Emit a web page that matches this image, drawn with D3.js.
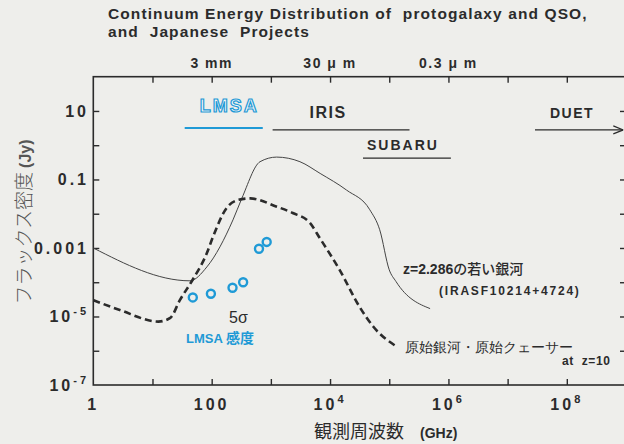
<!DOCTYPE html>
<html>
<head>
<meta charset="utf-8">
<script src="https://cdn.jsdelivr.net/npm/d3@7"></script>
<style>
  body { margin: 0; background: #eeeeeb; }
  text { font-family: 'Liberation Sans', Arial, sans-serif; }
</style>
</head>
<body>
<svg width="624" height="444"></svg>
<script>
// axis labels
const freqTicks = [1, 100, 1e4, 1e6, 1e8]
const freqTickLabels = ['1', '100', '10^4', '10^6', '10^8']
const fluxTicks = [10, 0.1, 0.001, 1e-5, 1e-7]
const fluxTickLabels = ['10', '0.1', '0.001', '10^-5', '10^-7']
const waveTicks = [100, 1e4, 1e6]
const waveTickLabels = ['3 mm', '30 μ m', '0.3 μ m']

// z=2.286 young galaxy (IRASF10214+4724), GHz / Jy
const youngFreq = [1, 43, 83, 229, 323, 656, 1250, 3100, 6800, 1.9e4, 4.7e4, 6.9e4, 1e5, 1.3e5, 4.9e5]
const youngFlux = [1e-3, 1.1e-4, 2.8e-4, 6.6e-3, 0.028, 0.33, 0.45, 0.33, 0.15, 0.049, 0.013, 3.4e-3, 2.3e-4, 1.05e-4, 1.7e-5]

// protogalaxy / proto-QSO at z=10
const protoFreq = [1, 2.8, 12.6, 20, 29, 48, 83, 105, 178, 275, 447, 1260, 2340, 4570, 6760, 1.45e4, 3.16e4, 5.4e4, 1.35e5]
const protoFlux = [3e-5, 1.55e-5, 7.1e-6, 9.1e-6, 3e-5, 1.2e-4, 7.1e-4, 2.1e-3, 0.0145, 0.025, 0.028, 0.016, 0.0105, 5.4e-3, 1.9e-3, 2.3e-4, 1.9e-5, 5e-6, 1.3e-6]

// LMSA 5 sigma sensitivity
const sensFreq = [48, 97, 225, 340, 630, 850]
const sensFlux = [3.6e-5, 4.6e-5, 6.9e-5, 1.0e-4, 9.5e-4, 1.5e-3]

// project coverage
const projNames = ['LMSA', 'IRIS', 'SUBARU', 'DUET']
const projStart = [35, 1070, 3.6e4, 2.9e7]
const projEnd = [730, 2.2e5, 1.1e6, 9e8]
const projLevel = [3.2, 2.8, 0.42, 2.8]

const svg = d3.select('svg')
const ink = '#2b2b2b'
const blue = '#1f9ad6'

const x = d3.scaleLog().domain([1, 1e9]).range([93.3, 626])
const y = d3.scaleLog().domain([1e-7, 1e2]).range([385, 76.7])

const decadesX = d3.range(1, 10).map(k => 10 ** k)
const decadesY = d3.range(-6, 2).map(k => 10 ** k)

// frame
svg.append('rect')
  .attr('x', x(1)).attr('y', y(1e2))
  .attr('width', x(1e9) - x(1)).attr('height', y(1e-7) - y(1e2))
  .attr('fill', 'none').attr('stroke', ink).attr('stroke-width', 1.6)

const axes = [
  [d3.axisBottom(x).tickValues(decadesX.slice(0, 8)), `translate(0,${y(1e-7)})`],
  [d3.axisTop(x).tickValues(decadesX.slice(0, 8)), `translate(0,${y(1e2)})`],
  [d3.axisLeft(y).tickValues(decadesY), `translate(${x(1)},0)`],
  [d3.axisRight(y).tickValues(decadesY), `translate(${x(1e9)},0)`]
]
axes.forEach(([ax, tr]) => {
  const g = svg.append('g').attr('transform', tr)
    .call(ax.tickSizeInner(-6).tickSizeOuter(0).tickFormat(''))
  g.select('.domain').remove()
  g.selectAll('line').attr('stroke', ink).attr('stroke-width', 1.4)
})

function sup(sel, str) {
  const [b, e] = str.split('^')
  sel.append('tspan').text(b)
  if (e) sel.append('tspan').attr('dy', -7).attr('font-size', 11).text(e)
}

svg.append('g').selectAll('text').data(freqTicks).join('text')
  .attr('x', d => x(d)).attr('y', 410)
  .attr('text-anchor', 'middle').attr('font-size', 16).attr('font-weight', 'bold')
  .attr('letter-spacing', 3).attr('fill', ink)
  .each(function (d, i) { sup(d3.select(this), freqTickLabels[i]) })

svg.append('g').selectAll('text').data(fluxTicks).join('text')
  .attr('x', 89).attr('y', d => y(d) + 6)
  .attr('text-anchor', 'end').attr('font-size', 16).attr('font-weight', 'bold')
  .attr('letter-spacing', 3).attr('fill', ink)
  .each(function (d, i) { sup(d3.select(this), fluxTickLabels[i]) })

svg.append('g').selectAll('text').data(waveTicks).join('text')
  .attr('x', d => x(d)).attr('y', 68)
  .attr('text-anchor', 'middle').attr('font-size', 14).attr('font-weight', 'bold')
  .attr('letter-spacing', 1.5).attr('fill', ink)
  .text((d, i) => waveTickLabels[i])

// title
const title = svg.append('text').attr('x', 108).attr('y', 19)
  .attr('font-size', 15.5).attr('font-weight', 'bold').attr('fill', ink).attr('letter-spacing', 1.1)
title.append('tspan').text('Continuum Energy Distribution of\u00a0 protogalaxy and QSO,')
title.append('tspan').attr('x', 108).attr('dy', 18).text('and\u00a0 Japanese\u00a0 Projects')

// axis titles
const yt = svg.append('text')
  .attr('transform', 'translate(31,222) rotate(-90)')
  .attr('text-anchor', 'middle').attr('font-size', 19).attr('fill', '#555')
yt.append('tspan').attr('font-family', 'Noto Sans CJK JP').attr('font-weight', 300).text('フラックス密度 ')
yt.append('tspan').attr('font-weight', 'bold').attr('font-size', 16).text('(Jy)')

const xt = svg.append('text').attr('x', 314).attr('y', 438).attr('fill', ink)
xt.append('tspan').attr('font-family', 'Noto Sans CJK JP').attr('font-size', 18).text('観測周波数')
xt.append('tspan').attr('dx', 16).attr('font-weight', 'bold').attr('font-size', 14).text('(GHz)')

// curves
const line = d3.line()
  .x(d => x(d[0])).y(d => y(d[1]))
  .curve(d3.curveMonotoneX)

svg.append('path')
  .attr('d', line(d3.zip(youngFreq, youngFlux)))
  .attr('fill', 'none').attr('stroke', '#444').attr('stroke-width', 1)

svg.append('path')
  .attr('d', line(d3.zip(protoFreq, protoFlux)))
  .attr('fill', 'none').attr('stroke', ink).attr('stroke-width', 2.6)
  .attr('stroke-dasharray', '7,4')

// LMSA sensitivity
svg.append('g').selectAll('circle').data(d3.zip(sensFreq, sensFlux)).join('circle')
  .attr('cx', d => x(d[0])).attr('cy', d => y(d[1])).attr('r', 4)
  .attr('fill', 'none').attr('stroke', blue).attr('stroke-width', 2.4)

// project bars
svg.append('defs').append('marker')
  .attr('id', 'arr').attr('viewBox', '0 0 10 10').attr('refX', 10).attr('refY', 5)
  .attr('markerWidth', 10).attr('markerHeight', 10).attr('markerUnits', 'userSpaceOnUse')
  .attr('orient', 'auto')
  .append('path').attr('d', 'M0,1 L10,5 L0,9').attr('fill', 'none').attr('stroke', ink).attr('stroke-width', 1.2)

const labelDx = [15, 37, 4, 15]
const labelDy = [-16, -12, -8, -12]
const labelSize = [18, 16, 14, 14]
const labelSpacing = [2, 1.5, 2, 1.5]
projNames.forEach((n, i) => {
  const c = i === 0 ? blue : ink
  svg.append('line')
    .attr('x1', x(projStart[i])).attr('x2', x(projEnd[i]))
    .attr('y1', y(projLevel[i])).attr('y2', y(projLevel[i]))
    .attr('stroke', c).attr('stroke-width', i === 0 ? 2 : 1.4)
    .attr('marker-end', n === 'DUET' ? 'url(#arr)' : null)
  const t = svg.append('text')
    .attr('x', x(projStart[i]) + labelDx[i]).attr('y', y(projLevel[i]) + labelDy[i])
    .attr('font-size', labelSize[i]).attr('font-weight', 'bold').attr('letter-spacing', labelSpacing[i])
    .text(n)
  if (i === 0) t.attr('fill', '#f4f6f8').attr('stroke', blue).attr('stroke-width', 1.2)
  else t.attr('fill', ink)
})

// annotations
svg.append('text').attr('x', 229).attr('y', 323)
  .attr('font-family', 'Liberation Serif, serif').attr('font-size', 16).attr('fill', ink)
  .text('5σ')
const sens = svg.append('text').attr('x', 186).attr('y', 343).attr('fill', blue).attr('font-weight', 'bold')
sens.append('tspan').attr('font-size', 13).text('LMSA ')
sens.append('tspan').attr('font-family', 'Noto Sans CJK JP').attr('font-size', 14).text('感度')

const za = svg.append('text').attr('x', 403).attr('y', 274).attr('fill', ink).attr('font-weight', 'bold')
za.append('tspan').attr('font-size', 14).text('z=2.286')
za.append('tspan').attr('font-family', 'Noto Sans CJK JP').attr('font-size', 14).attr('font-weight', 500).text('の若い銀河')
svg.append('text').attr('x', 439).attr('y', 295).attr('fill', ink)
  .attr('font-size', 12).attr('font-weight', 'bold').attr('letter-spacing', 1.8)
  .text('(IRASF10214+4724)')

svg.append('text').attr('x', 405).attr('y', 352).attr('fill', ink)
  .attr('font-family', 'Noto Sans CJK JP').attr('font-size', 13.5)
  .text('原始銀河・原始クェーサー')
svg.append('text').attr('x', 562).attr('y', 365).attr('fill', ink)
  .attr('font-size', 12).attr('font-weight', 'bold').attr('letter-spacing', 0.6)
  .text('at\u00a0 z=10')
</script>
</body>
</html>
